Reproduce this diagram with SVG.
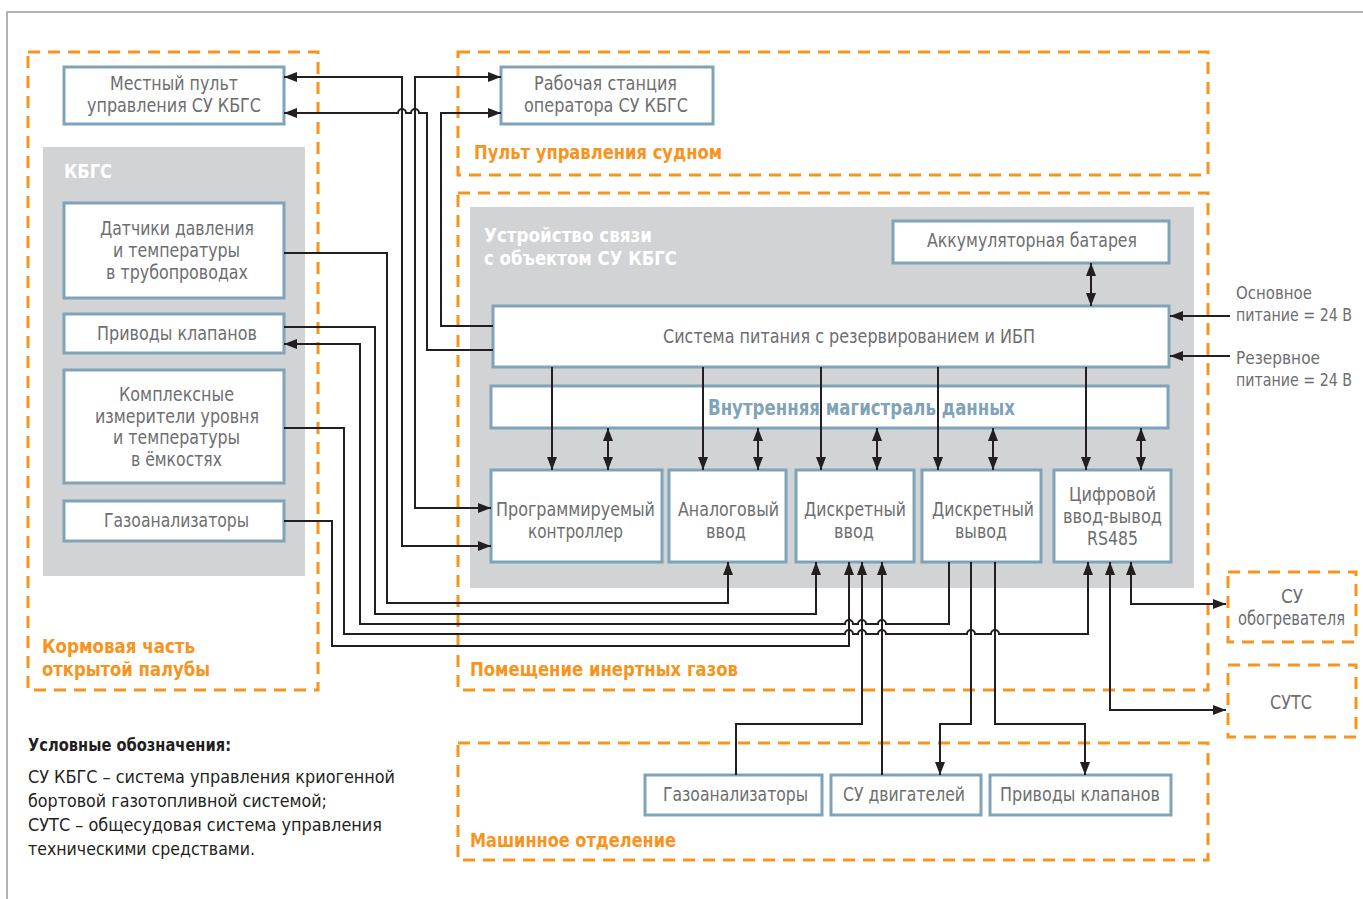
<svg xmlns="http://www.w3.org/2000/svg" width="1363" height="899" viewBox="0 0 1363 899">
<defs>
<style>
.frame{fill:none;stroke:#b3b3b3;stroke-width:2}
.zone{fill:none;stroke:#f7941d;stroke-width:3;stroke-dasharray:12 8}
.grey{fill:#d1d3d4}
.box{fill:#fff;stroke:#7fa4b9;stroke-width:3}
.t{font-family:"Liberation Sans Narrow","DejaVu Sans Condensed","Liberation Sans",sans-serif;font-size:19px;fill:#6d6e70}
.t2{font-family:"Liberation Sans Narrow","DejaVu Sans Condensed","Liberation Sans",sans-serif;font-size:17px;fill:#6d6e70}
.zt{font-family:"Liberation Sans Narrow","DejaVu Sans Condensed","Liberation Sans",sans-serif;font-size:20px;font-weight:bold;fill:#f7941d}
.wt{font-family:"Liberation Sans Narrow","DejaVu Sans Condensed","Liberation Sans",sans-serif;font-size:20px;font-weight:bold;fill:#fff}
.bt{font-family:"Liberation Sans Narrow","DejaVu Sans Condensed","Liberation Sans",sans-serif;font-size:21px;font-weight:bold;fill:#7fa4b9}
.lg{font-family:"Liberation Sans Narrow","DejaVu Sans Condensed","Liberation Sans",sans-serif;font-size:18px;fill:#231f20}
.lgb{font-family:"Liberation Sans Narrow","DejaVu Sans Condensed","Liberation Sans",sans-serif;font-size:18px;font-weight:bold;fill:#231f20}
.c{fill:none;stroke:#231f20;stroke-width:2}
</style>
<marker id="ar" viewBox="0 0 13 10" refX="13" refY="5" markerWidth="13" markerHeight="10" markerUnits="userSpaceOnUse" orient="auto-start-reverse">
<path d="M0,0 L13,5 L0,10 z" fill="#231f20"/>
</marker>
</defs>
<rect width="1363" height="899" fill="#fff"/>
<path class="frame" d="M7,899 V12 H1363"/>

<g id="zones">
<rect class="zone" x="28" y="52" width="290" height="638"/>
<rect class="zone" x="458" y="52" width="750" height="123"/>
<rect class="zone" x="458" y="193" width="750" height="497"/>
<rect class="zone" x="458" y="743" width="750" height="117"/>
<text class="zt" x="42" y="653" textLength="153" lengthAdjust="spacingAndGlyphs">Кормовая часть</text>
<text class="zt" x="42" y="676" textLength="168" lengthAdjust="spacingAndGlyphs">открытой палубы</text>
<text class="zt" x="474" y="159" textLength="248" lengthAdjust="spacingAndGlyphs">Пульт управления судном</text>
<text class="zt" x="470" y="676" textLength="268" lengthAdjust="spacingAndGlyphs">Помещение инертных газов</text>
<text class="zt" x="470" y="847" textLength="206" lengthAdjust="spacingAndGlyphs">Машинное отделение</text>
</g>

<g id="kbgs">
<rect class="grey" x="43" y="147" width="262" height="429"/>
<text class="wt" x="64" y="178" textLength="48" lengthAdjust="spacingAndGlyphs">КБГС</text>
</g>
<g id="device">
<rect class="grey" x="470" y="207" width="724" height="381"/>
<text class="wt" x="484" y="242" textLength="168" lengthAdjust="spacingAndGlyphs">Устройство связи</text>
<text class="wt" x="484" y="265" textLength="193" lengthAdjust="spacingAndGlyphs">с объектом СУ КБГС</text>
</g>

<g id="local-panel">
<rect class="box" x="64" y="67" width="220" height="57"/>
<text class="t" x="110" y="90" textLength="128" lengthAdjust="spacingAndGlyphs">Местный пульт</text>
<text class="t" x="87" y="112" textLength="174" lengthAdjust="spacingAndGlyphs">управления СУ КБГС</text>
</g>
<g id="workstation">
<rect class="box" x="501" y="67" width="212" height="57"/>
<text class="t" x="534" y="90" textLength="143" lengthAdjust="spacingAndGlyphs">Рабочая станция</text>
<text class="t" x="524" y="112" textLength="164" lengthAdjust="spacingAndGlyphs">оператора СУ КБГС</text>
</g>
<g id="sensors">
<rect class="box" x="64" y="203" width="220" height="95"/>
<text class="t" x="100" y="235" textLength="154" lengthAdjust="spacingAndGlyphs">Датчики давления</text>
<text class="t" x="113" y="257" textLength="127" lengthAdjust="spacingAndGlyphs">и температуры</text>
<text class="t" x="106" y="279" textLength="142" lengthAdjust="spacingAndGlyphs">в трубопроводах</text>
</g>
<g id="valves">
<rect class="box" x="64" y="314" width="220" height="39"/>
<text class="t" x="97" y="340" textLength="160" lengthAdjust="spacingAndGlyphs">Приводы клапанов</text>
</g>
<g id="level">
<rect class="box" x="64" y="370" width="220" height="113"/>
<text class="t" x="119" y="401" textLength="115" lengthAdjust="spacingAndGlyphs">Комплексные</text>
<text class="t" x="95" y="423" textLength="164" lengthAdjust="spacingAndGlyphs">измерители уровня</text>
<text class="t" x="113" y="444" textLength="127" lengthAdjust="spacingAndGlyphs">и температуры</text>
<text class="t" x="131" y="466" textLength="91" lengthAdjust="spacingAndGlyphs">в ёмкостях</text>
</g>
<g id="gas-deck">
<rect class="box" x="64" y="501" width="220" height="40"/>
<text class="t" x="104" y="527" textLength="145" lengthAdjust="spacingAndGlyphs">Газоанализаторы</text>
</g>

<g id="battery">
<rect class="box" x="893" y="221" width="276" height="42"/>
<text class="t" x="927" y="247" textLength="210" lengthAdjust="spacingAndGlyphs">Аккумуляторная батарея</text>
</g>
<g id="power">
<rect class="box" x="493" y="306" width="676" height="61"/>
<text class="t" x="663" y="343" textLength="372" lengthAdjust="spacingAndGlyphs">Система питания с резервированием и ИБП</text>
</g>
<g id="bus">
<rect class="box" x="491" y="386" width="677" height="42"/>
<text class="bt" x="708" y="415" textLength="307" lengthAdjust="spacingAndGlyphs">Внутренняя магистраль данных</text>
</g>
<g id="plc">
<rect class="box" x="491" y="470" width="171" height="92"/>
<text class="t" x="496" y="516" textLength="159" lengthAdjust="spacingAndGlyphs">Программируемый</text>
<text class="t" x="528" y="538" textLength="95" lengthAdjust="spacingAndGlyphs">контроллер</text>
</g>
<g id="ai">
<rect class="box" x="669" y="470" width="117" height="92"/>
<text class="t" x="678" y="516" textLength="101" lengthAdjust="spacingAndGlyphs">Аналоговый</text>
<text class="t" x="706" y="538" textLength="40" lengthAdjust="spacingAndGlyphs">ввод</text>
</g>
<g id="di">
<rect class="box" x="796" y="470" width="118" height="92"/>
<text class="t" x="804" y="516" textLength="102" lengthAdjust="spacingAndGlyphs">Дискретный</text>
<text class="t" x="834" y="538" textLength="40" lengthAdjust="spacingAndGlyphs">ввод</text>
</g>
<g id="do">
<rect class="box" x="922" y="470" width="119" height="92"/>
<text class="t" x="932" y="516" textLength="102" lengthAdjust="spacingAndGlyphs">Дискретный</text>
<text class="t" x="955" y="538" textLength="52" lengthAdjust="spacingAndGlyphs">вывод</text>
</g>
<g id="dio">
<rect class="box" x="1054" y="470" width="117" height="92"/>
<text class="t" x="1069" y="501" textLength="87" lengthAdjust="spacingAndGlyphs">Цифровой</text>
<text class="t" x="1063" y="523" textLength="99" lengthAdjust="spacingAndGlyphs">ввод-вывод</text>
<text class="t" x="1087" y="545" textLength="51" lengthAdjust="spacingAndGlyphs">RS485</text>
</g>

<g id="mains">
<text class="t2" x="1236" y="299" textLength="76" lengthAdjust="spacingAndGlyphs">Основное</text>
<text class="t2" x="1236" y="321" textLength="116" lengthAdjust="spacingAndGlyphs">питание = 24 В</text>
</g>
<g id="reserve">
<text class="t2" x="1236" y="364" textLength="84" lengthAdjust="spacingAndGlyphs">Резервное</text>
<text class="t2" x="1236" y="386" textLength="116" lengthAdjust="spacingAndGlyphs">питание = 24 В</text>
</g>
<g id="heater">
<rect class="zone" x="1228" y="572" width="128" height="70"/>
<text class="t" x="1281" y="603" textLength="22" lengthAdjust="spacingAndGlyphs">СУ</text>
<text class="t" x="1238" y="625" textLength="107" lengthAdjust="spacingAndGlyphs">обогревателя</text>
</g>
<g id="suts">
<rect class="zone" x="1228" y="665" width="128" height="72"/>
<text class="t" x="1270" y="709" textLength="42" lengthAdjust="spacingAndGlyphs">СУТС</text>
</g>

<g id="gas-engine">
<rect class="box" x="645" y="775" width="177" height="40"/>
<text class="t" x="663" y="801" textLength="145" lengthAdjust="spacingAndGlyphs">Газоанализаторы</text>
</g>
<g id="engines">
<rect class="box" x="831" y="775" width="150" height="40"/>
<text class="t" x="843" y="801" textLength="122" lengthAdjust="spacingAndGlyphs">СУ двигателей</text>
</g>
<g id="valves-engine">
<rect class="box" x="990" y="775" width="181" height="40"/>
<text class="t" x="1000" y="801" textLength="160" lengthAdjust="spacingAndGlyphs">Приводы клапанов</text>
</g>

<g id="legend">
<text class="lgb" x="28" y="751" textLength="203" lengthAdjust="spacingAndGlyphs">Условные обозначения:</text>
<text class="lg" x="28" y="783" textLength="367" lengthAdjust="spacingAndGlyphs">СУ КБГС – система управления криогенной</text>
<text class="lg" x="28" y="807" textLength="299" lengthAdjust="spacingAndGlyphs">бортовой газотопливной системой;</text>
<text class="lg" x="28" y="831" textLength="354" lengthAdjust="spacingAndGlyphs">СУТС – общесудовая система управления</text>
<text class="lg" x="28" y="855" textLength="227" lengthAdjust="spacingAndGlyphs">техническими средствами.</text>
</g>

<g id="connectors">
<path class="c" marker-start="url(#ar)" marker-end="url(#ar)" d="M284,77 H402 V546 H491"/>
<path class="c" marker-start="url(#ar)" marker-end="url(#ar)" d="M501,77 H415 V508 H491"/>
<path class="c" marker-end="url(#ar)" d="M493,326 H441 V113 H501"/>
<path class="c" marker-start="url(#ar)" d="M284,113 H398 a4,4 0 0 1 8,0 H411 a4,4 0 0 1 8,0 H427 V350 H493"/>
<path class="c" marker-end="url(#ar)" d="M284,253 H387 V603 H728 V562"/>
<path class="c" marker-end="url(#ar)" d="M284,327 H375 V614 H816 V562"/>
<path class="c" marker-start="url(#ar)" d="M284,344 H360 V624 H845 a4,4 0 0 1 8,0 H858 a4,4 0 0 1 8,0 H878 a4,4 0 0 1 8,0 H949 V562"/>
<path class="c" marker-end="url(#ar)" d="M284,428 H344 V634 H845 a4,4 0 0 1 8,0 H858 a4,4 0 0 1 8,0 H878 a4,4 0 0 1 8,0 H967 a4,4 0 0 1 8,0 H991 a4,4 0 0 1 8,0 H1088 V562"/>
<path class="c" marker-end="url(#ar)" d="M284,521 H332 V646 H849 V562"/>
<path class="c" marker-end="url(#ar)" d="M736,775 V724 H862 V562"/>
<path class="c" marker-end="url(#ar)" d="M882,775 V562"/>
<path class="c" marker-end="url(#ar)" d="M971,562 V724 H940 V775"/>
<path class="c" marker-end="url(#ar)" d="M995,562 V724 H1085 V775"/>
<path class="c" marker-start="url(#ar)" marker-end="url(#ar)" d="M1110,562 V710 H1226"/>
<path class="c" marker-start="url(#ar)" marker-end="url(#ar)" d="M1131,562 V604 H1226"/>
<path class="c" marker-end="url(#ar)" d="M552,367 V470"/>
<path class="c" marker-end="url(#ar)" d="M703,367 V470"/>
<path class="c" marker-end="url(#ar)" d="M821,367 V470"/>
<path class="c" marker-end="url(#ar)" d="M938,367 V470"/>
<path class="c" marker-end="url(#ar)" d="M1086,367 V470"/>
<path class="c" marker-start="url(#ar)" marker-end="url(#ar)" d="M608,428 V470"/>
<path class="c" marker-start="url(#ar)" marker-end="url(#ar)" d="M758,428 V470"/>
<path class="c" marker-start="url(#ar)" marker-end="url(#ar)" d="M877,428 V470"/>
<path class="c" marker-start="url(#ar)" marker-end="url(#ar)" d="M993,428 V470"/>
<path class="c" marker-start="url(#ar)" marker-end="url(#ar)" d="M1141,428 V470"/>
<path class="c" marker-start="url(#ar)" marker-end="url(#ar)" d="M1091,263 V306"/>
<path class="c" marker-end="url(#ar)" d="M1230,316 H1170"/>
<path class="c" marker-end="url(#ar)" d="M1230,356 H1170"/>
</g>
</svg>
